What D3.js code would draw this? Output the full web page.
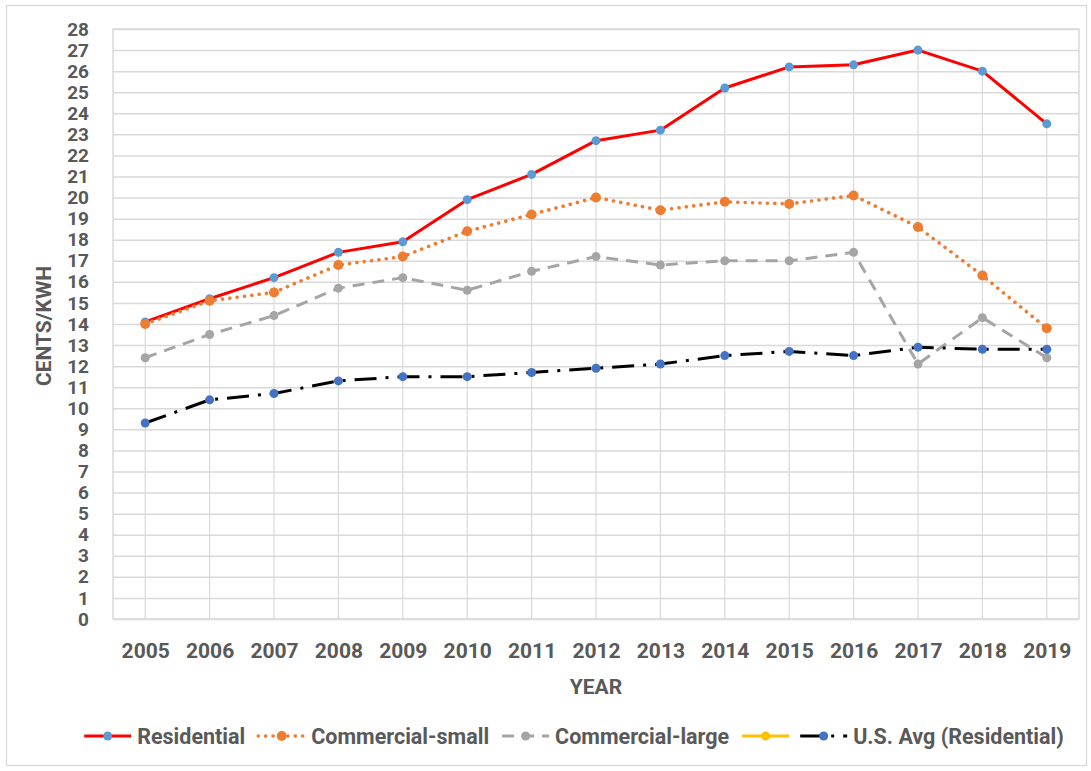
<!DOCTYPE html>
<html>
<head>
<meta charset="utf-8">
<script src="https://cdn.jsdelivr.net/npm/d3@7"></script>
<style>
  body { margin: 0; background: #fff; }
  svg text { font-family: Roboto, "Liberation Sans", sans-serif; font-weight: bold; fill: #595959; }
</style>
</head>
<body>
<div id="chart"></div>
<script>
// data
const years = [2005, 2006, 2007, 2008, 2009, 2010, 2011, 2012, 2013, 2014, 2015, 2016, 2017, 2018, 2019];
const residential = [14.1, 15.2, 16.2, 17.4, 17.9, 19.9, 21.1, 22.7, 23.2, 25.2, 26.2, 26.3, 27.0, 26.0, 23.5];
const commercialSmall = [14.0, 15.1, 15.5, 16.8, 17.2, 18.4, 19.2, 20.0, 19.4, 19.8, 19.7, 20.1, 18.6, 16.3, 13.8];
const commercialLarge = [12.4, 13.5, 14.4, 15.7, 16.2, 15.6, 16.5, 17.2, 16.8, 17.0, 17.0, 17.4, 12.1, 14.3, 12.4];
const blankSeries = [];
const usAvg = [9.3, 10.4, 10.7, 11.3, 11.5, 11.5, 11.7, 11.9, 12.1, 12.5, 12.7, 12.5, 12.9, 12.8, 12.8];
const seriesNames = ['Residential', 'Commercial-small', 'Commercial-large', '', 'U.S. Avg (Residential)'];
const yTicks = [0, 1, 2, 3, 4, 5, 6, 7, 8, 9, 10, 11, 12, 13, 14, 15, 16, 17, 18, 19, 20, 21, 22, 23, 24, 25, 26, 27, 28];
const yTitle = 'CENTS/KWH';
const xTitle = 'YEAR';

const W = 1091, H = 771;
const plot = {left: 113, right: 1079, top: 29, bottom: 619};

// line styles per series
const styles = [
  {stroke: '#FF0000', dash: null, marker: '#5B9BD5', r: 4.5, width: 3},
  {stroke: '#ED7D31', dash: '0.1 7.3', cap: 'round', marker: '#ED7D31', r: 5, width: 3.6},
  {stroke: '#A5A5A5', dash: '12 8', marker: '#A5A5A5', r: 4.5, width: 3},
  {stroke: '#FFC000', dash: null, marker: '#FFC000', r: 4.5, width: 3},
  {stroke: '#000000', dash: '22 9 3 9', marker: '#4472C4', r: 4.5, width: 3}
];
const allSeries = [residential, commercialSmall, commercialLarge, blankSeries, usAvg];

const svg = d3.select('#chart').append('svg')
  .attr('width', W).attr('height', H);

// outer chart border
svg.append('rect')
  .attr('x', 6.5).attr('y', 5.5).attr('width', 1080).attr('height', 760)
  .attr('fill', '#fff').attr('stroke', '#d9d9d9').attr('stroke-width', 1.3);

const x = d3.scalePoint()
  .domain(years)
  .range([plot.left, plot.right])
  .padding(0.5);

const y = d3.scaleLinear()
  .domain([0, 28])
  .range([plot.bottom, plot.top]);

// horizontal gridlines
svg.append('g')
  .attr('transform', `translate(${plot.left},0)`)
  .call(d3.axisLeft(y).tickValues(yTicks).tickSize(-(plot.right - plot.left)).tickFormat(''))
  .call(g => g.select('.domain').remove())
  .call(g => g.selectAll('line').attr('stroke', '#d9d9d9').attr('stroke-width', 1.5));

// plot border
svg.append('rect')
  .attr('x', plot.left).attr('y', plot.top)
  .attr('width', plot.right - plot.left).attr('height', plot.bottom - plot.top)
  .attr('fill', 'none').attr('stroke', '#d9d9d9').attr('stroke-width', 1.5);

// drop lines from the highest value down to the axis
svg.append('g').selectAll('line')
  .data(years)
  .enter().append('line')
    .attr('x1', d => x(d)).attr('x2', d => x(d))
    .attr('y1', (d, i) => y(d3.max(allSeries, s => s[i])))
    .attr('y2', y(0))
    .attr('stroke', '#d9d9d9').attr('stroke-width', 1.2);

// y axis labels
svg.append('g')
  .attr('transform', `translate(${plot.left},0)`)
  .call(d3.axisLeft(y).tickValues(yTicks).tickSize(0).tickPadding(24))
  .call(g => g.select('.domain').remove())
  .call(g => g.selectAll('text').attr('font-size', 19).attr('fill', '#595959')
    .style('font-family', 'Roboto').style('font-weight', 'bold'));

// x axis labels
svg.append('g')
  .attr('transform', `translate(0,${plot.bottom})`)
  .call(d3.axisBottom(x).tickSize(0).tickPadding(24))
  .call(g => g.select('.domain').remove())
  .call(g => g.selectAll('text').attr('font-size', 21).attr('fill', '#595959')
    .style('font-family', 'Roboto').style('font-weight', 'bold'));

// axis titles
svg.append('text')
  .attr('transform', `translate(51,${(plot.top + plot.bottom) / 2 + 2}) rotate(-90)`)
  .attr('text-anchor', 'middle')
  .attr('font-size', 21)
  .text(yTitle);

svg.append('text')
  .attr('x', (plot.left + plot.right) / 2)
  .attr('y', 694)
  .attr('text-anchor', 'middle')
  .attr('font-size', 21)
  .text(xTitle);

// series
const line = d3.line()
  .x((d, i) => x(years[i]))
  .y(d => y(d));

allSeries.forEach((values, k) => {
  const st = styles[k];
  if (!values.length) return;
  svg.append('path')
    .datum(values)
    .attr('d', line)
    .attr('fill', 'none')
    .attr('stroke', st.stroke)
    .attr('stroke-width', st.width)
    .attr('stroke-dasharray', st.dash)
    .attr('stroke-linecap', st.cap || 'butt')
    .attr('stroke-linejoin', 'round');
  svg.append('g').selectAll('circle')
    .data(values)
    .enter().append('circle')
      .attr('cx', (d, i) => x(years[i]))
      .attr('cy', d => y(d))
      .attr('r', st.r)
      .attr('fill', st.marker);
});

// legend
const legend = svg.append('g');
let lx = 0;
seriesNames.forEach((name, k) => {
  const st = styles[k];
  const item = legend.append('g').attr('transform', `translate(${lx},0)`);
  item.append('line')
    .attr('x1', 0).attr('x2', 47).attr('y1', 0).attr('y2', 0)
    .attr('stroke', st.stroke).attr('stroke-width', st.width)
    .attr('stroke-dasharray', st.dash)
    .attr('stroke-linecap', st.cap || 'butt');
  item.append('circle').attr('cx', 23.5).attr('cy', 0).attr('r', st.r).attr('fill', st.marker);
  const t = item.append('text')
    .attr('x', 53).attr('y', 7.5)
    .attr('font-size', 21.5)
    .text(name);
  const tw = name ? t.node().getComputedTextLength() : 0;
  lx += 53 + tw + (name ? 13 : 5);
});
const legendWidth = lx - 13;
legend.attr('transform', `translate(${574 - legendWidth / 2},736)`);
</script>
</body>
</html>
